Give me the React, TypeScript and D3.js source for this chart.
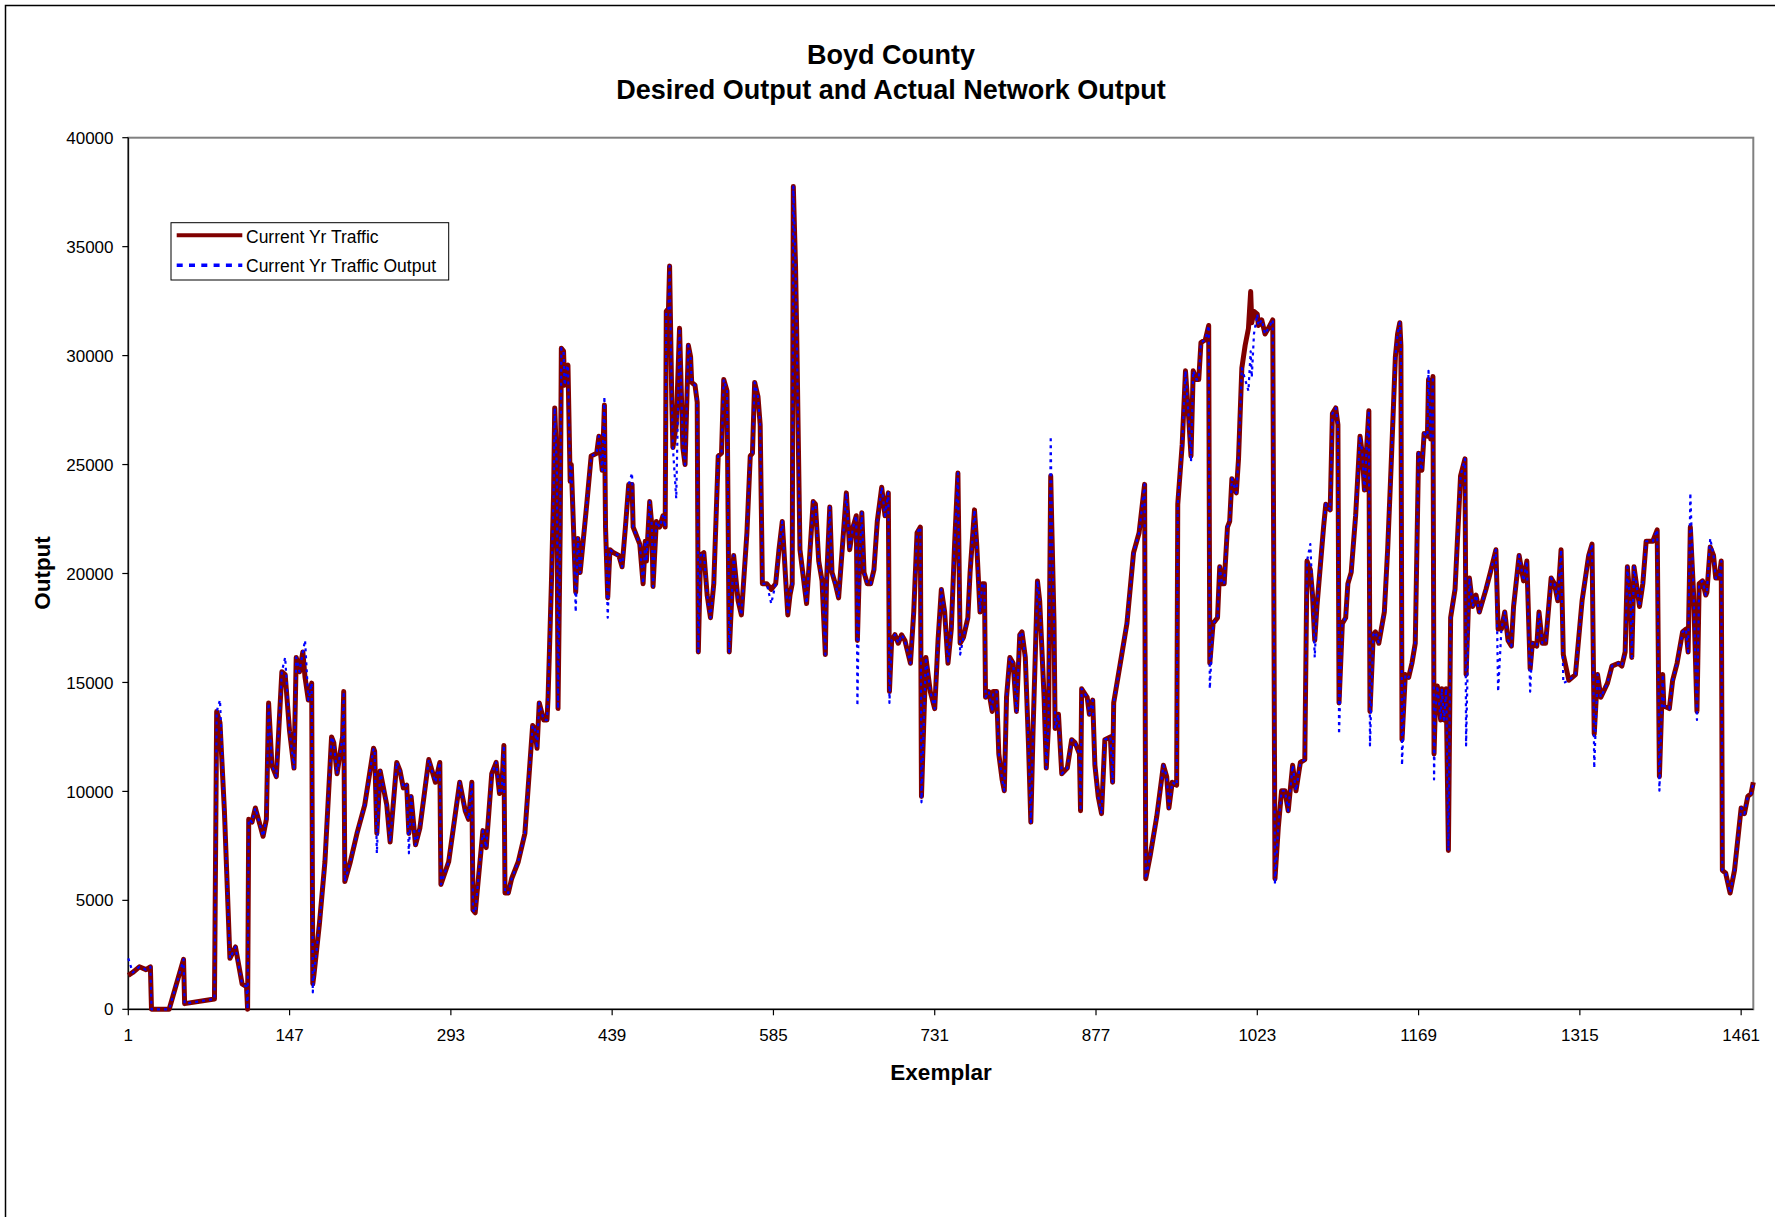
import React from "react";
import * as d3 from "d3";

const chartTitle = ["Boyd County", "Desired Output and Actual Network Output"];
const seriesNames = ["Current Yr Traffic", "Current Yr Traffic Output"];
const yAxisTitle = "Output";
const xAxisTitle = "Exemplar";
const yTicks = [0, 5000, 10000, 15000, 20000, 25000, 30000, 35000, 40000];
const xTicks = [1, 147, 293, 439, 585, 731, 877, 1023, 1169, 1315, 1461];
const exemplarCount = 1472;

// [exemplar, value]
const currentYrTraffic: [number, number][] = [
  [1,1560],[5,1690],[11,1950],[17,1820],[21,1950],[22,0],[38,0],[51,2290],[52,260],[79,470],[81,13670],[84,13150],[88,9110],[93,2340],[98,2860],[104,1170],[108,1040],[109,0],[110,8720],[113,8590],[116,9240],[123,7940],[126,8720],[128,14060],[131,11200],[135,10680],[140,15490],[143,15360],[147,12760],[151,11070],[153,16150],[156,15490],[159,16400],[161,15230],[164,14190],[167,14970],[168,1170],[169,1560],[174,3910],[179,6770],[185,12500],[187,12240],[190,10810],[193,11850],[195,12500],[196,14580],[197,5860],[202,6770],[208,8070],[215,9370],[223,11980],[224,11850],[226,8070],[229,10940],[235,9370],[238,7680],[244,11330],[247,10940],[250,10160],[253,10290],[255,8070],[257,9770],[261,7550],[265,8330],[273,11460],[279,10420],[283,11330],[284,5730],[291,6770],[301,10420],[306,9110],[309,8720],[312,10420],[313,4560],[315,4430],[322,8200],[325,7420],[330,10810],[334,11330],[337,9900],[339,10030],[341,12110],[342,5340],[345,5340],[348,5990],[354,6770],[360,8070],[367,13020],[369,12890],[371,11980],[373,14060],[377,13280],[380,13280],[381,14320],[384,19530],[386,23700],[387,27600],[389,24740],[390,13800],[392,22130],[393,30340],[395,30210],[396,28640],[398,29430],[399,29560],[401,24220],[402,25000],[404,22130],[406,19140],[408,21610],[410,20050],[413,21610],[416,23180],[420,25390],[425,25520],[427,26300],[430,24740],[432,27730],[433,22130],[435,18880],[437,21090],[440,20960],[445,20830],[448,20310],[451,22130],[454,24090],[457,24090],[458,22130],[460,21870],[464,21350],[467,19530],[469,21480],[470,20570],[473,23300],[475,22130],[476,19400],[479,22390],[482,22130],[485,22650],[487,22130],[488,32030],[490,32160],[491,34110],[493,27860],[494,25780],[497,26820],[500,31250],[503,25780],[505,25000],[507,28640],[508,30470],[510,29950],[511,28770],[514,28640],[516,27860],[517,16400],[519,20830],[522,20960],[525,19010],[528,17970],[531,19530],[535,25390],[538,25520],[540,28900],[543,28380],[545,16400],[549,20830],[553,18750],[556,18100],[561,21870],[564,25390],[566,25520],[568,28770],[571,28120],[573,26820],[575,19530],[579,19530],[583,19270],[587,19530],[590,21090],[593,22390],[596,19790],[598,18100],[600,19010],[602,19530],[603,37760],[605,34110],[606,31250],[609,21090],[615,18620],[621,23300],[623,23180],[626,20570],[629,19660],[632,16280],[633,19530],[636,23050],[638,20050],[641,19530],[644,18880],[648,21610],[651,23700],[654,21090],[657,22130],[660,22650],[661,16930],[663,20570],[665,22790],[667,20050],[670,19530],[673,19530],[676,20180],[679,22390],[683,23960],[686,22650],[689,23700],[690,14580],[692,16930],[695,17190],[698,16800],[701,17190],[704,16930],[709,15880],[712,18230],[715,21870],[718,22130],[719,9770],[721,13020],[723,16150],[727,14580],[731,13800],[734,16930],[737,19270],[740,18230],[743,15880],[746,17450],[749,21350],[752,24610],[754,16800],[757,17060],[761,17970],[763,20050],[767,22920],[769,21350],[772,18230],[774,19530],[776,19530],[777,14320],[780,14580],[783,13670],[784,14580],[787,14580],[789,11720],[792,10550],[794,10030],[796,14320],[799,16150],[802,15880],[805,13670],[808,17190],[810,17320],[813,16150],[816,11980],[818,8590],[820,12760],[824,19660],[826,18750],[830,14320],[832,11070],[834,13020],[836,24480],[837,22130],[839,17710],[840,12890],[843,13540],[846,10810],[851,11070],[855,12370],[858,12240],[862,11720],[863,9110],[864,14710],[869,14320],[871,13540],[874,14190],[876,11200],[879,9770],[882,8980],[885,12370],[890,12500],[892,10420],[893,14060],[899,15880],[905,17710],[911,20960],[916,21870],[921,24090],[922,5990],[926,7030],[932,8850],[938,11200],[941,10680],[943,9240],[946,10420],[950,10290],[951,23180],[955,25910],[958,29300],[961,27080],[963,25390],[965,29300],[968,28900],[970,28900],[972,30600],[976,30730],[979,31380],[980,15880],[983,17710],[987,17970],[989,20310],[991,19530],[993,19530],[996,22130],[998,22390],[1000,24350],[1004,23700],[1006,25260],[1009,29430],[1012,30470],[1015,31250],[1017,32940],[1018,31510],[1020,32030],[1023,31900],[1024,31380],[1027,31640],[1030,30990],[1033,31250],[1037,31640],[1039,5990],[1042,8330],[1045,10030],[1048,10030],[1051,9110],[1055,11200],[1058,10030],[1062,11330],[1066,11460],[1068,20570],[1071,20180],[1073,19010],[1075,16930],[1077,18490],[1080,20310],[1083,22130],[1085,23180],[1089,22920],[1091,27340],[1094,27600],[1096,26820],[1097,14060],[1100,17710],[1103,17970],[1105,19530],[1108,20050],[1112,22650],[1116,26300],[1118,25520],[1120,23830],[1122,25780],[1124,27470],[1125,13670],[1128,17190],[1130,17320],[1133,16800],[1138,18230],[1141,21090],[1144,24740],[1148,29950],[1150,30990],[1152,31510],[1153,30470],[1154,12370],[1157,15360],[1160,15230],[1163,15880],[1166,16800],[1169,25520],[1172,24740],[1174,26430],[1177,26300],[1178,28900],[1180,26170],[1182,29040],[1183,11720],[1184,13540],[1186,14840],[1189,13280],[1190,14710],[1192,13280],[1194,14710],[1196,7290],[1198,17970],[1202,19270],[1207,24480],[1211,25260],[1212,15360],[1215,19790],[1218,18490],[1221,19010],[1224,18230],[1230,19270],[1234,20050],[1239,21090],[1241,17450],[1244,17450],[1247,18230],[1250,16930],[1253,16670],[1255,18490],[1260,20830],[1264,19660],[1267,20570],[1270,15620],[1272,16800],[1276,16670],[1278,18230],[1281,16800],[1284,16800],[1289,19790],[1292,19530],[1295,18750],[1298,21090],[1300,16280],[1305,15100],[1311,15360],[1317,18750],[1323,20830],[1326,21350],[1328,12630],[1331,15360],[1334,14320],[1340,14970],[1344,15750],[1350,15880],[1353,15750],[1356,16400],[1358,20310],[1361,18490],[1362,16150],[1364,20310],[1369,18490],[1372,19530],[1375,21480],[1381,21480],[1385,22000],[1387,10680],[1390,15360],[1391,13930],[1396,13800],[1399,15100],[1403,15880],[1408,17320],[1411,17450],[1413,16400],[1415,22130],[1418,19010],[1421,13670],[1423,19530],[1426,19660],[1429,19010],[1430,19140],[1433,21220],[1436,20830],[1438,19790],[1441,19790],[1443,20570],[1444,6380],[1447,6250],[1451,5340],[1455,6380],[1461,9240],[1464,8980],[1467,9770],[1470,9900],[1472,10420]
];

// [exemplar, value]
const currentYrTrafficOutput: [number, number][] = [
  [1,2340],[5,1690],[11,1950],[17,1820],[21,1950],[22,0],[38,0],[51,2290],[52,260],[79,470],[81,13670],[84,14190],[88,9110],[93,2340],[98,2860],[104,1170],[108,1040],[109,0],[110,8720],[113,8590],[116,9240],[123,7940],[126,8720],[128,14060],[131,11200],[135,10680],[140,15490],[143,16150],[147,12760],[151,11070],[153,16150],[156,15490],[159,16400],[161,16930],[164,14190],[167,14970],[168,780],[169,1560],[174,3910],[179,6770],[185,12500],[187,12240],[190,10810],[193,11850],[195,12500],[196,14580],[197,5860],[202,6770],[208,8070],[215,9370],[223,11980],[224,11850],[226,7160],[229,10940],[235,9370],[238,7680],[244,11330],[247,10940],[250,10160],[253,10290],[255,7160],[257,9770],[261,7550],[265,8330],[273,11460],[279,10420],[283,11330],[284,5730],[291,6770],[301,10420],[306,9110],[309,8720],[312,10420],[313,4560],[315,4430],[322,8200],[325,7420],[330,10810],[334,11330],[337,9900],[339,10030],[341,12110],[342,5340],[345,5340],[348,5990],[354,6770],[360,8070],[367,13020],[369,12890],[371,11980],[373,14060],[377,13280],[380,13280],[381,14320],[384,19530],[386,23700],[387,27600],[389,24740],[390,13800],[392,22130],[393,30340],[395,30210],[396,28640],[398,29430],[399,29560],[401,24220],[402,25000],[404,22130],[406,18230],[408,21610],[410,20050],[413,21610],[416,23180],[420,25390],[425,25520],[427,26300],[430,24740],[432,28120],[433,22130],[435,17970],[437,21090],[440,20960],[445,20830],[448,20310],[451,22130],[454,24090],[457,24610],[458,22130],[460,21870],[464,21350],[467,19530],[469,21480],[470,20570],[473,23300],[475,22130],[476,19400],[479,22390],[482,22130],[485,22650],[487,22130],[488,32030],[490,32160],[491,34110],[493,27860],[494,25780],[497,23440],[500,31250],[503,25780],[505,25000],[507,28640],[508,30470],[510,29950],[511,28770],[514,28640],[516,27860],[517,16400],[519,20830],[522,20960],[525,19010],[528,17970],[531,19530],[535,25390],[538,25520],[540,28900],[543,28380],[545,16400],[549,20830],[553,18750],[556,18100],[561,21870],[564,25390],[566,25520],[568,28770],[571,28120],[573,26820],[575,19530],[579,19530],[583,18620],[587,19530],[590,21090],[593,22390],[596,19790],[598,18100],[600,19010],[602,19530],[603,37760],[605,34110],[606,31250],[609,21090],[615,18620],[621,23300],[623,23180],[626,20570],[629,19660],[632,16280],[633,19530],[636,23050],[638,20050],[641,19530],[644,18880],[648,21610],[651,23700],[654,21090],[657,22130],[660,22650],[661,13930],[663,20570],[665,22790],[667,20050],[670,19530],[673,19530],[676,20180],[679,22390],[683,23960],[686,22650],[689,23700],[690,14060],[692,16930],[695,17190],[698,16800],[701,17190],[704,16930],[709,15880],[712,18230],[715,21870],[718,22130],[719,9500],[721,13020],[723,16150],[727,14580],[731,13800],[734,16930],[737,19270],[740,18230],[743,15880],[746,17450],[749,21350],[752,24610],[754,16280],[757,17060],[761,17970],[763,20050],[767,22920],[769,21350],[772,18230],[774,19530],[776,19530],[777,14320],[780,14580],[783,13670],[784,14580],[787,14580],[789,11720],[792,10550],[794,10030],[796,14320],[799,16150],[802,15880],[805,13670],[808,17190],[810,17320],[813,16150],[816,11980],[818,8590],[820,12760],[824,19660],[826,18750],[830,14320],[832,11070],[834,13020],[836,26300],[837,22130],[839,17710],[840,12890],[843,13540],[846,10810],[851,11070],[855,12370],[858,12240],[862,11720],[863,9110],[864,14710],[869,14320],[871,13540],[874,14190],[876,11200],[879,9770],[882,8980],[885,12370],[890,12500],[892,10420],[893,14060],[899,15880],[905,17710],[911,20960],[916,21870],[921,24090],[922,5990],[926,7030],[932,8850],[938,11200],[941,10680],[943,9240],[946,10420],[950,10290],[951,23180],[955,25910],[958,29300],[961,27080],[963,25130],[965,29300],[968,28900],[970,28900],[972,30600],[976,30730],[979,31380],[980,14710],[983,17710],[987,17970],[989,20310],[991,19530],[993,19530],[996,22130],[998,22390],[1000,24350],[1004,23700],[1006,25260],[1009,29430],[1012,28900],[1015,28380],[1017,30200],[1018,29000],[1020,31000],[1023,31900],[1024,31380],[1027,31640],[1030,30990],[1033,31250],[1037,31640],[1039,5730],[1042,8330],[1045,10030],[1048,10030],[1051,9110],[1055,11200],[1058,10030],[1062,11330],[1066,11460],[1068,20570],[1071,21350],[1073,19010],[1075,16150],[1077,18490],[1080,20310],[1083,22130],[1085,23180],[1089,22920],[1091,27340],[1094,27600],[1096,26820],[1097,12630],[1100,17710],[1103,17970],[1105,19530],[1108,20050],[1112,22650],[1116,26300],[1118,25520],[1120,23830],[1122,25780],[1124,27470],[1125,12110],[1128,17190],[1130,17320],[1133,16800],[1138,18230],[1141,21090],[1144,24740],[1148,29950],[1150,30990],[1152,31510],[1153,30470],[1154,11200],[1157,15360],[1160,15230],[1163,15880],[1166,16800],[1169,25520],[1172,24740],[1174,26430],[1177,26300],[1178,29300],[1180,26170],[1182,29040],[1183,10550],[1184,13540],[1186,14840],[1189,13280],[1190,14710],[1192,13280],[1194,14710],[1196,7290],[1198,17970],[1202,19270],[1207,24480],[1211,25260],[1212,12110],[1215,19790],[1218,18490],[1221,19010],[1224,18230],[1230,19270],[1234,20050],[1239,21090],[1241,14580],[1244,17450],[1247,18230],[1250,16930],[1253,16670],[1255,18490],[1260,20830],[1264,19660],[1267,20570],[1270,14580],[1272,16800],[1276,16670],[1278,18230],[1281,16800],[1284,16800],[1289,19790],[1292,19530],[1295,18750],[1298,21090],[1300,14970],[1305,15100],[1311,15360],[1317,18750],[1323,20830],[1326,21350],[1328,11070],[1331,15360],[1334,14320],[1340,14970],[1344,15750],[1350,15880],[1353,15750],[1356,16400],[1358,20310],[1361,18490],[1362,16150],[1364,20310],[1369,18490],[1372,19530],[1375,21480],[1381,21480],[1385,22000],[1387,10030],[1390,15360],[1391,13930],[1396,13800],[1399,15100],[1403,15880],[1408,17320],[1411,17450],[1413,16400],[1415,23700],[1418,19010],[1421,13280],[1423,19530],[1426,19660],[1429,19010],[1430,19140],[1433,21610],[1436,20830],[1438,19790],[1441,19790],[1443,20570],[1444,6380],[1447,6250],[1451,5340],[1455,6380],[1461,9240],[1464,8980],[1467,9770],[1470,9900],[1472,10420]
];

const FONT = "'Liberation Sans', Arial, Helvetica, sans-serif";
const RED = "#800000";
const BLUE = "#0000FF";

export default function App() {
  const W = 1775;
  const H = 1217;
  const left = 128.3;
  const right = 1753.3;
  const top = 137.7;
  const bottom = 1009.3;

  const x = d3.scaleLinear().domain([1, exemplarCount]).range([left, right]);
  const y = d3.scaleLinear().domain([0, 40000]).range([bottom, top]);
  const line = d3
    .line<[number, number]>()
    .x((d) => x(d[0]))
    .y((d) => y(d[1]));

  return (
    <svg
      width={W}
      height={H}
      style={{ position: "absolute", left: 0, top: 0, background: "#fff" }}
      fontFamily={FONT}
    >
      <rect x={0} y={0} width={W} height={H} fill="#fff" />
      <rect x={5.5} y={5.5} width={W + 50} height={H + 50} fill="none" stroke="#000" strokeWidth={1.5} />

      {/* Title */}
      <text x={891} y={63.5} textAnchor="middle" fontSize={27} fontWeight="bold" fill="#000">
        {chartTitle[0]}
      </text>
      <text x={891} y={98.5} textAnchor="middle" fontSize={27} fontWeight="bold" fill="#000">
        {chartTitle[1]}
      </text>

      {/* Plot area border */}
      <rect
        x={left}
        y={top}
        width={right - left}
        height={bottom - top}
        fill="none"
        stroke="#808080"
        strokeWidth={2}
      />

      {/* Y axis */}
      <line x1={left} x2={left} y1={top} y2={bottom} stroke="#000" strokeWidth={1.2} />
      {yTicks.map((t) => (
        <g key={"y" + t}>
          <line x1={left - 6} x2={left} y1={y(t)} y2={y(t)} stroke="#000" strokeWidth={1.2} />
          <text x={113.5} y={y(t)} dy="0.36em" textAnchor="end" fontSize={17} fill="#000">
            {t}
          </text>
        </g>
      ))}

      {/* X axis */}
      <line x1={left} x2={right} y1={bottom} y2={bottom} stroke="#000" strokeWidth={1.2} />
      {xTicks.map((t) => (
        <g key={"x" + t}>
          <line x1={x(t)} x2={x(t)} y1={bottom} y2={bottom + 6} stroke="#000" strokeWidth={1.2} />
          <text x={x(t)} y={1040.5} textAnchor="middle" fontSize={17} fill="#000">
            {t}
          </text>
        </g>
      ))}

      {/* Axis titles */}
      <text
        transform={`translate(49.5, 573) rotate(-90)`}
        textAnchor="middle"
        fontSize={22.5}
        fontWeight="bold"
        fill="#000"
      >
        {yAxisTitle}
      </text>
      <text x={941} y={1079.5} textAnchor="middle" fontSize={22.5} fontWeight="bold" fill="#000">
        {xAxisTitle}
      </text>

      {/* Series */}
      <path
        d={line(currentYrTraffic) || ""}
        fill="none"
        stroke={RED}
        strokeWidth={5}
        strokeLinejoin="round"
        strokeLinecap="butt"
      />
      <path
        d={line(currentYrTrafficOutput) || ""}
        fill="none"
        stroke={BLUE}
        strokeWidth={2.2}
        strokeDasharray="3 4"
        strokeLinejoin="round"
      />

      {/* Legend */}
      <rect x={171} y={222.7} width={277.7} height={57.3} fill="#fff" stroke="#000" strokeWidth={1} />
      <line x1={176.7} x2={242.3} y1={235.3} y2={235.3} stroke={RED} strokeWidth={4} />
      <text x={246} y={243} fontSize={17.5} fill="#000">
        {seriesNames[0]}
      </text>
      <line
        x1={176.7}
        x2={242.3}
        y1={265.3}
        y2={265.3}
        stroke={BLUE}
        strokeWidth={3.5}
        strokeDasharray="6 6.3"
      />
      <text x={246} y={271.7} fontSize={17.5} fill="#000">
        {seriesNames[1]}
      </text>
    </svg>
  );
}
